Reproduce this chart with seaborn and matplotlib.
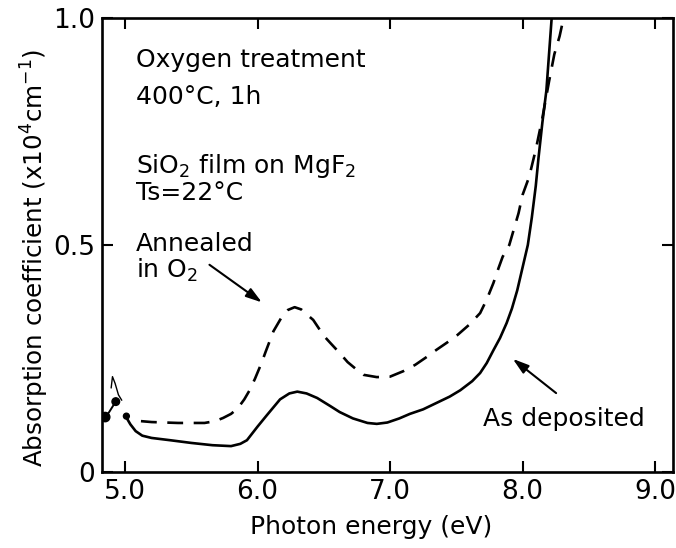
import numpy as np
import pandas as pd
import matplotlib
matplotlib.use("Agg")
import matplotlib.pyplot as plt
import seaborn as sns

# As-deposited film (solid curve)
dep_energy = [5.00, 5.04, 5.08, 5.13, 5.20, 5.34, 5.50, 5.66, 5.80, 5.87, 5.92, 6.00,
              6.07, 6.17, 6.24, 6.30, 6.37, 6.45, 6.55, 6.62, 6.72, 6.83, 6.90, 6.98,
              7.07, 7.15, 7.25, 7.35, 7.45, 7.53, 7.62, 7.68, 7.73, 7.78, 7.83, 7.88,
              7.92, 7.96, 8.00, 8.04, 8.07, 8.10, 8.12, 8.15, 8.18, 8.20, 8.22, 8.24]
dep_alpha = [0.125, 0.105, 0.090, 0.080, 0.075, 0.070, 0.064, 0.059, 0.057, 0.062, 0.070, 0.100,
             0.125, 0.160, 0.173, 0.177, 0.173, 0.163, 0.145, 0.132, 0.118, 0.108, 0.106, 0.109,
             0.118, 0.128, 0.138, 0.152, 0.166, 0.180, 0.200, 0.218, 0.240, 0.268, 0.295, 0.328,
             0.360, 0.400, 0.450, 0.500, 0.560, 0.630, 0.690, 0.770, 0.840, 0.920, 1.000, 1.050]

# Film annealed in O2 (dashed curve)
ann_energy = [5.12, 5.20, 5.40, 5.60, 5.68, 5.74, 5.80, 5.85, 5.90, 5.94, 5.98, 6.03,
              6.06, 6.12, 6.18, 6.23, 6.28, 6.33, 6.38, 6.42, 6.50, 6.55, 6.62, 6.68,
              6.75, 6.80, 6.90, 7.00, 7.10, 7.19, 7.27, 7.35, 7.43, 7.51, 7.60, 7.68,
              7.73, 7.78, 7.82, 7.85, 7.90, 7.93, 7.97, 8.00, 8.05, 8.10, 8.15, 8.20,
              8.24, 8.28, 8.31, 8.33]
ann_alpha = [0.112, 0.110, 0.108, 0.108, 0.112, 0.119, 0.128, 0.140, 0.160, 0.180, 0.205, 0.240,
             0.264, 0.310, 0.340, 0.357, 0.363, 0.358, 0.345, 0.335, 0.300, 0.284, 0.262, 0.242,
             0.225, 0.214, 0.209, 0.210, 0.222, 0.236, 0.252, 0.269, 0.285, 0.302, 0.325, 0.350,
             0.380, 0.416, 0.450, 0.474, 0.500, 0.530, 0.570, 0.610, 0.650, 0.710, 0.780, 0.860,
             0.920, 0.960, 1.000, 1.040]

# Low-energy edge of the spectrum
edge_energy = [4.85, 4.88, 4.91, 4.93]
edge_alpha = [0.121, 0.132, 0.146, 0.155]
spike_energy = [4.895, 4.905, 4.925, 4.95, 4.975]
spike_alpha = [0.185, 0.210, 0.195, 0.170, 0.158]
dot_energy = [4.85, 4.93, 5.01]
dot_alpha = [0.121, 0.155, 0.123]
dot_size = [45, 30, 18]

x_ticks = [5.0, 6.0, 7.0, 8.0, 9.0]
x_tick_labels = ["5.0", "6.0", "7.0", "8.0", "9.0"]
y_ticks = [0.0, 0.5, 1.0]
y_tick_labels = ["0", "0.5", "1.0"]

sns.set_theme(style="ticks")
plt.rcParams["font.family"] = ["DejaVu Sans"]
plt.rcParams["mathtext.fontset"] = "dejavusans"
plt.rcParams["text.color"] = "black"
plt.rcParams["axes.labelcolor"] = "black"

fig = plt.figure(figsize=(6.76, 5.48), dpi=100)
ax = fig.add_axes([0.1509, 0.1387, 0.8447, 0.8285])

dep = pd.DataFrame({"energy": dep_energy, "alpha": dep_alpha})
ann = pd.DataFrame({"energy": ann_energy, "alpha": ann_alpha})
edge = pd.DataFrame({"energy": edge_energy, "alpha": edge_alpha})
spike = pd.DataFrame({"energy": spike_energy, "alpha": spike_alpha})
dots = pd.DataFrame({"energy": dot_energy, "alpha": dot_alpha, "size": dot_size})

sns.lineplot(data=dep, x="energy", y="alpha", ax=ax, color="black", lw=1.9, sort=False)
sns.lineplot(data=ann, x="energy", y="alpha", ax=ax, color="black", lw=1.9,
             linestyle=(0, (6, 4)), sort=False)
sns.lineplot(data=edge, x="energy", y="alpha", ax=ax, color="black", lw=1.4, sort=False)
sns.lineplot(data=spike, x="energy", y="alpha", ax=ax, color="black", lw=1.0, sort=False)
ax.scatter(dots["energy"], dots["alpha"], s=dots["size"], color="black", zorder=5)

ax.set_xlim(4.826, 9.136)
ax.set_ylim(0, 1.0)
ax.set_xticks(x_ticks)
ax.set_xticklabels(x_tick_labels)
ax.set_yticks(y_ticks)
ax.set_yticklabels(y_tick_labels)
ax.tick_params(direction="in", length=8, width=1.5, top=True, right=True,
               labelsize=19, colors="black", pad=5)
for sp in ax.spines.values():
    sp.set_linewidth(1.9)
    sp.set_color("black")

ax.set_xlabel("Photon energy (eV)", fontsize=18, labelpad=5)
ax.xaxis.set_label_coords(0.471, -0.095)
ax.set_ylabel(r"Absorption coefficient (x10$^4$cm$^{-1}$)", fontsize=17.7, labelpad=2)
ax.yaxis.set_label_coords(-0.09, 0.471)

fs = 18
ax.text(5.08, 0.907, "Oxygen treatment", fontsize=fs, va="center", ha="left")
ax.text(5.08, 0.826, "400°C, 1h", fontsize=fs, va="center", ha="left")
ax.text(5.08, 0.674, r"SiO$_2$ film on MgF$_2$", fontsize=fs, va="center", ha="left")
ax.text(5.08, 0.615, "Ts=22°C", fontsize=fs, va="center", ha="left")
ax.text(5.08, 0.502, "Annealed", fontsize=fs, va="center", ha="left")
ax.text(5.08, 0.445, r"in O$_2$", fontsize=fs, va="center", ha="left")
ax.text(7.70, 0.117, "As deposited", fontsize=fs, va="center", ha="left")

arrow = dict(arrowstyle="-|>,head_length=0.8,head_width=0.25", color="black", lw=1.5)
ax.annotate("", xy=(6.05, 0.37), xytext=(5.62, 0.46), arrowprops=arrow)
ax.annotate("", xy=(7.91, 0.253), xytext=(8.27, 0.17), arrowprops=arrow)

fig.savefig("out.png", dpi=100)
